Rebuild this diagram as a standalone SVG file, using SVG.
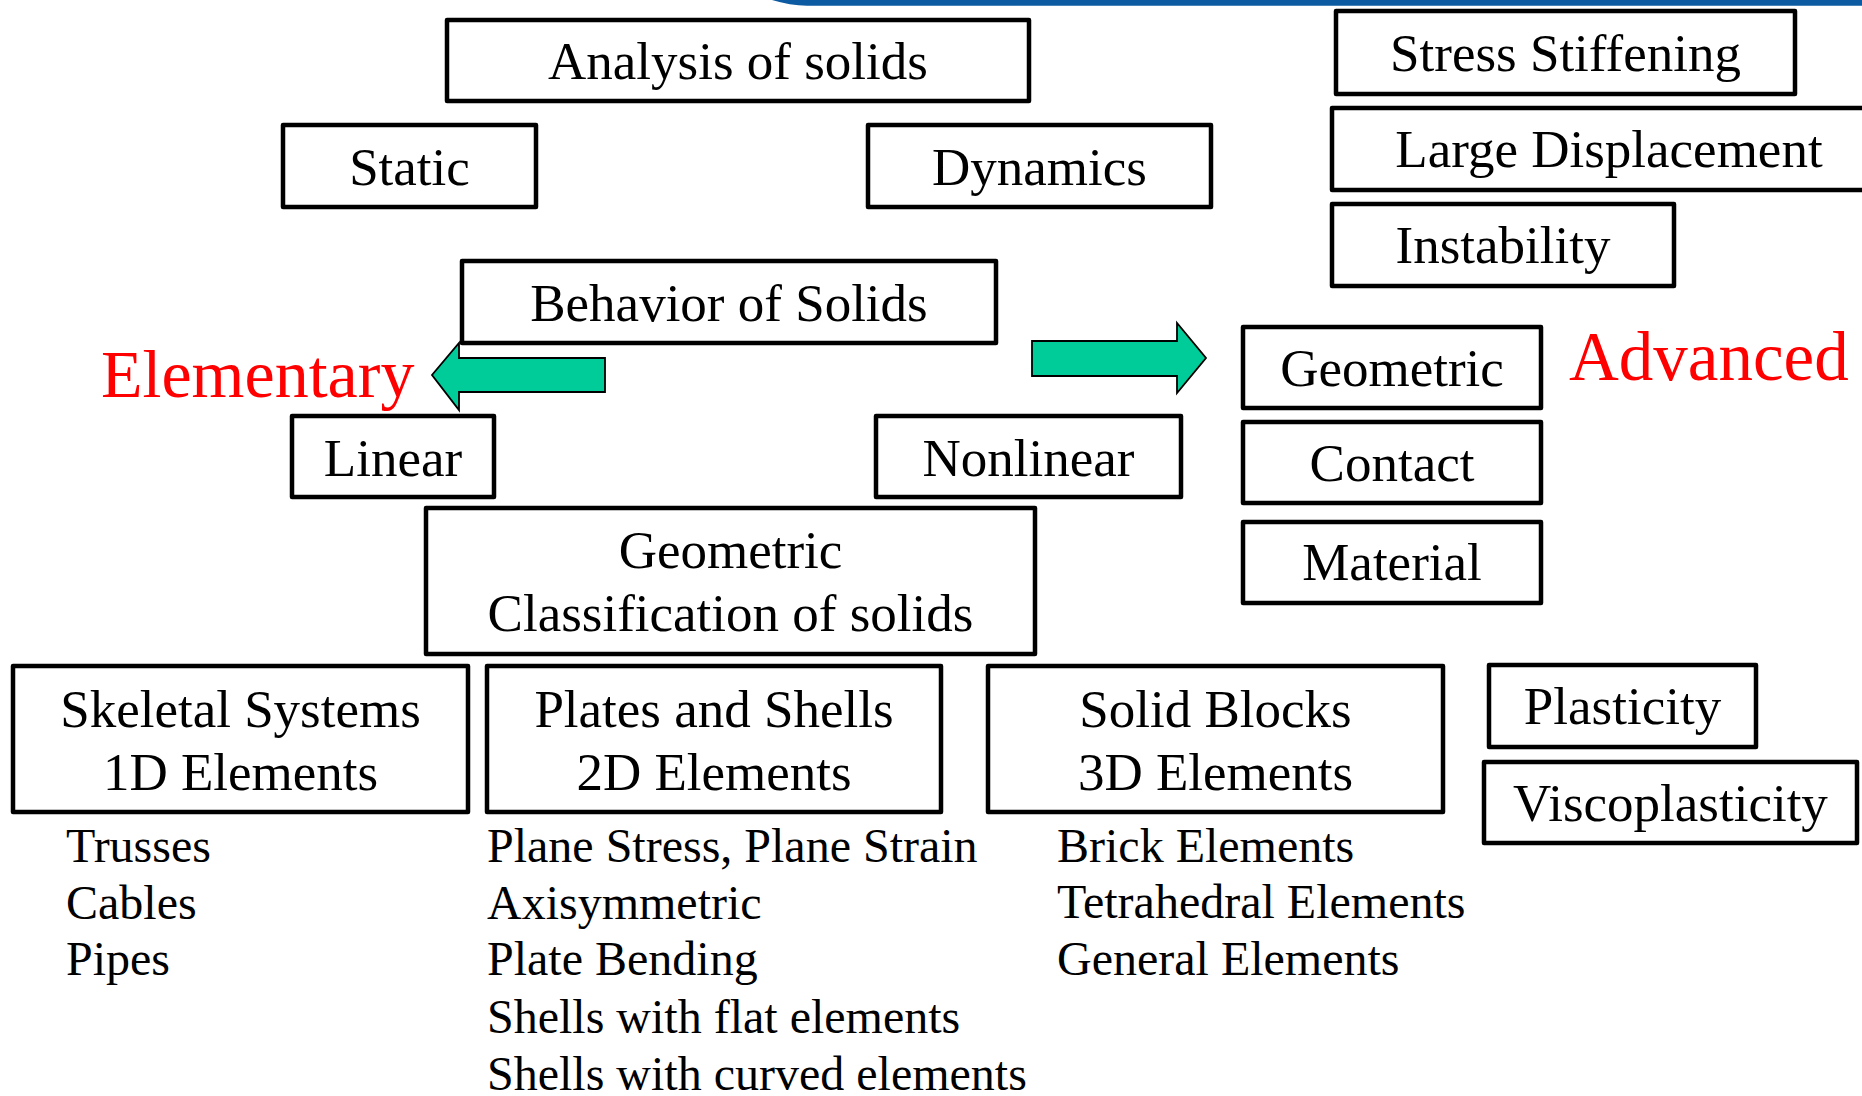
<svg xmlns="http://www.w3.org/2000/svg" width="1862" height="1096" viewBox="0 0 1862 1096">
<style>
.box{fill:#fff;stroke:#000;stroke-width:4.5;stroke-linejoin:round}
.lbl{font-family:"Liberation Serif","Times New Roman",serif;font-size:53px;fill:#000;text-anchor:middle}
.lst{font-family:"Liberation Serif","Times New Roman",serif;font-size:48px;fill:#000}
.red{font-family:"Liberation Serif","Times New Roman",serif;fill:#ff0000}
.arr{fill:#00CC99;stroke:#000;stroke-width:1.8;stroke-linejoin:miter}
</style>
<rect width="1862" height="1096" fill="#fff"/>
<path d="M772,0 Q790,5.5 807,5.7 L1862,5.7 L1862,0 Z" fill="#0B5AA2"/>
<g id="analysis"><rect class="box" x="447" y="20" width="582" height="81"/><text class="lbl" x="738" y="79">Analysis of solids</text></g>
<g id="static"><rect class="box" x="283" y="125" width="253" height="82"/><text class="lbl" x="409.5" y="184.5">Static</text></g>
<g id="dynamics"><rect class="box" x="868" y="125" width="343" height="82"/><text class="lbl" x="1039.5" y="184.5">Dynamics</text></g>
<g id="stress-stiffening"><rect class="box" x="1336" y="11" width="459" height="83"/><text class="lbl" x="1565.5" y="71">Stress Stiffening</text></g>
<g id="large-displacement"><rect class="box" x="1332" y="108" width="556" height="82"/><text class="lbl" x="1609" y="167">Large Displacement</text></g>
<g id="instability"><rect class="box" x="1332" y="204" width="342" height="82"/><text class="lbl" x="1503" y="263">Instability</text></g>
<g id="behavior"><rect class="box" x="462" y="261" width="534" height="82"/><text class="lbl" x="729" y="321">Behavior of Solids</text></g>
<g id="linear"><rect class="box" x="292" y="416" width="202" height="81"/><text class="lbl" x="393" y="476">Linear</text></g>
<g id="nonlinear"><rect class="box" x="876" y="416" width="305" height="81"/><text class="lbl" x="1028.5" y="476">Nonlinear</text></g>
<g id="geom-class"><rect class="box" x="426" y="508" width="609" height="146"/><text class="lbl" x="730.5" y="568">Geometric</text><text class="lbl" x="730.5" y="631">Classification of solids</text></g>
<g id="geometric"><rect class="box" x="1243" y="327" width="298" height="81"/><text class="lbl" x="1392" y="386">Geometric</text></g>
<g id="contact"><rect class="box" x="1243" y="422" width="298" height="81"/><text class="lbl" x="1392" y="481">Contact</text></g>
<g id="material"><rect class="box" x="1243" y="522" width="298" height="81"/><text class="lbl" x="1392" y="580">Material</text></g>
<g id="skeletal"><rect class="box" x="13" y="666" width="455" height="146"/><text class="lbl" x="240.5" y="727">Skeletal Systems</text><text class="lbl" x="240.5" y="790">1D Elements</text></g>
<g id="plates"><rect class="box" x="487" y="666" width="454" height="146"/><text class="lbl" x="714" y="727">Plates and Shells</text><text class="lbl" x="714" y="790">2D Elements</text></g>
<g id="solid"><rect class="box" x="988" y="666" width="455" height="146"/><text class="lbl" x="1215.5" y="727">Solid Blocks</text><text class="lbl" x="1215.5" y="790">3D Elements</text></g>
<g id="plasticity"><rect class="box" x="1489" y="665" width="267" height="82"/><text class="lbl" x="1622.5" y="724">Plasticity</text></g>
<g id="viscoplasticity"><rect class="box" x="1484" y="762" width="373" height="81"/><text class="lbl" x="1670.5" y="821">Viscoplasticity</text></g>
<g id="elementary"><text class="red" x="101" y="397" font-size="68">Elementary</text></g>
<g id="advanced"><text class="red" x="1569" y="380" font-size="69">Advanced</text></g>
<g id="connectors">
<path class="arr" d="M605,358 L459,358 L459,343 L432,375 L459,410 L459,392 L605,392 Z"/>
<path class="arr" d="M1032,341 L1177,341 L1177,323 L1206,358 L1177,393 L1177,376 L1032,376 Z"/>
</g>
<g id="list-1d"><text class="lst" x="66" y="862">Trusses</text><text class="lst" x="66" y="919">Cables</text><text class="lst" x="66" y="975">Pipes</text></g>
<g id="list-2d"><text class="lst" x="487" y="862">Plane Stress, Plane Strain</text><text class="lst" x="487" y="919">Axisymmetric</text><text class="lst" x="487" y="975">Plate Bending</text><text class="lst" x="487" y="1033">Shells with flat elements</text><text class="lst" x="487" y="1090">Shells with curved elements</text></g>
<g id="list-3d"><text class="lst" x="1057" y="862">Brick Elements</text><text class="lst" x="1057" y="918">Tetrahedral Elements</text><text class="lst" x="1057" y="975">General Elements</text></g>
</svg>
